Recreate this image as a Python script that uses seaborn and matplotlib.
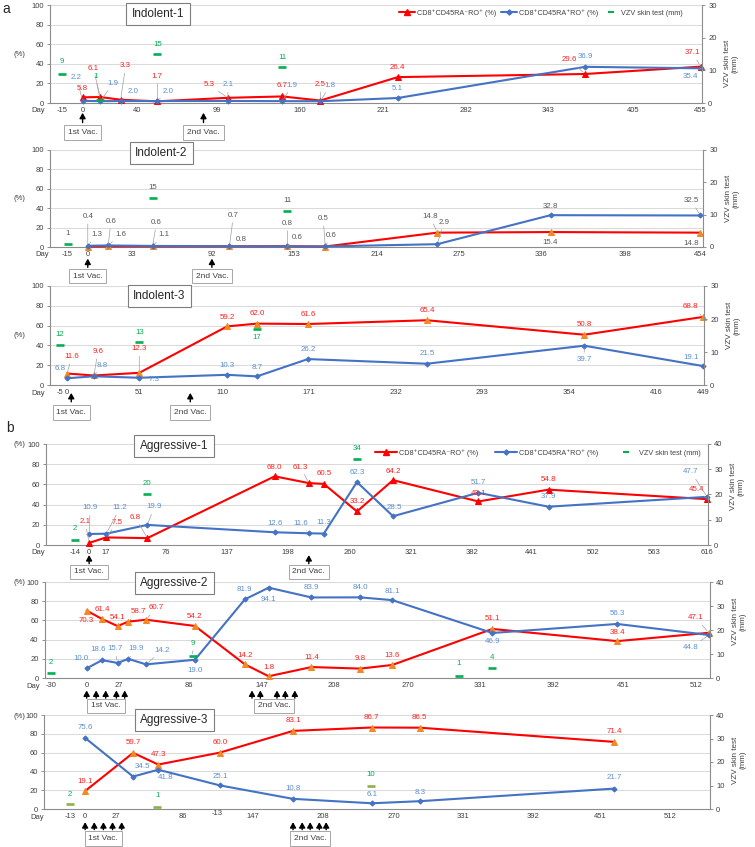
import numpy as np
import pandas as pd
import matplotlib
matplotlib.use('Agg')
import matplotlib.pyplot as plt
import seaborn as sns
from matplotlib.lines import Line2D

sns.set_style('white')
plt.rcParams['font.family'] = ['Liberation Sans', 'DejaVu Sans']

# ---- data: day of sampling, CD8+ subsets (%) and VZV skin test (mm) ----
ind1_day = [0, 13, 28, 55, 107, 147, 175, 232, 370, 455]
ind1_red = [5.8, 6.1, 3.3, 1.7, 5.3, 6.7, 2.5, 26.4, 29.6, 37.1]
ind1_blue = [2.2, 1.9, 2.0, 2.0, 2.1, 1.9, 1.8, 5.1, 36.9, 35.4]
ind1_skin_day = [-15, 13, 55, 147]
ind1_skin = [9, 1, 15, 11]
ind1_ticks = [-15, 0, 40, 99, 160, 221, 282, 343, 405, 455]

ind2_day = [0, 15, 48, 105, 148, 176, 259, 343, 454]
ind2_red = [0.4, 0.6, 0.6, 0.7, 0.8, 0.5, 14.8, 15.4, 14.8]
ind2_blue = [1.3, 1.6, 1.1, 0.8, 0.6, 0.6, 2.9, 32.8, 32.5]
ind2_skin_day = [-15, 48, 148]
ind2_skin = [1, 15, 11]
ind2_ticks = [-15, 0, 33, 92, 153, 214, 275, 336, 398, 454]

ind3_day = [0, 19, 51, 113, 134, 170, 254, 365, 449]
ind3_red = [11.6, 9.6, 12.3, 59.2, 62.0, 61.6, 65.4, 50.8, 68.8]
ind3_blue = [6.8, 8.8, 7.3, 10.3, 8.7, 26.2, 21.5, 39.7, 19.1]
ind3_skin_day = [-5, 51, 134]
ind3_skin = [12, 13, 17]
ind3_ticks = [-5, 0, 51, 110, 171, 232, 293, 354, 416, 449]

agg1_day = [0, 17, 58, 185, 219, 234, 267, 303, 388, 458, 616]
agg1_red = [2.1, 7.5, 6.8, 68.0, 61.3, 60.5, 33.2, 64.2, 43.1, 54.8, 45.4]
agg1_blue = [10.9, 11.2, 19.9, 12.6, 11.6, 11.3, 62.3, 28.5, 51.7, 37.9, 47.7]
agg1_skin_day = [-14, 58, 267]
agg1_skin = [2, 20, 34]
agg1_ticks = [-14, 0, 17, 76, 137, 198, 260, 321, 382, 441, 502, 563, 616]

agg2_day = [0, 13, 26, 35, 50, 91, 133, 153, 189, 230, 257, 341, 446, 523]
agg2_red = [70.3, 61.4, 54.1, 58.7, 60.7, 54.2, 14.2, 1.8, 11.4, 9.8, 13.6, 51.1, 38.4, 47.1]
agg2_blue = [10.0, 18.6, 15.7, 19.9, 14.2, 19.0, 81.9, 94.1, 83.9, 84.0, 81.1, 46.9, 56.3, 44.8]
agg2_skin_day = [-30, 89, 313, 341]
agg2_skin = [2, 9, 1, 4]
agg2_ticks = [-30, 0, 27, 86, 147, 208, 270, 331, 392, 451, 512]

agg3_day = [0, 42, 64, 118, 182, 251, 293, 463]
agg3_red = [19.1, 59.7, 47.3, 60.0, 83.1, 86.7, 86.5, 71.4]
agg3_blue = [75.6, 34.5, 41.8, 25.1, 10.8, 6.1, 8.3, 21.7]
agg3_skin_day = [-13, 63, 250]
agg3_skin = [2, 1, 10]
agg3_ticks = [-13, 0, 27, 86, 147, 208, 270, 331, 392, 451, 512]

# vaccination days (arrows)
ind1_vac = ([0], [89])
ind2_vac = ([0], [92])
ind3_vac = ([3], [87])
agg1_vac = ([0], [219])
agg2_vac = ([0, 8, 16, 25, 32], [139, 146, 160, 167, 175])
agg3_vac = ([0, 8, 16, 24, 32], [182, 190, 197, 205, 211])

# label offsets in pixels (dx, dy)
ind1_red_off = [(0, 9), (-7, 29), (5, 34), (0, 25), (-19, 13), (0, 11), (0, 16), (0, 10), (-16, 14), (-8, 14)]
ind1_blue_off = [(-6, 23), (13, 18), (12, 10), (11, 10), (0, 16), (10, 16), (10, 16), (0, 10), (0, 10), (-10, -8)]
ind1_skin_off = [(0, 12), (-5, 23), (0, 10), (0, 10)]
ind2_red_off = [(0, 30), (3, 25), (4, 24), (4, 31), (0, 23), (-2, 28), (-7, 16), (0, -10), (-9, -11)]
ind2_blue_off = [(9, 11), (13, 11), (11, 11), (12, 7), (10, 9), (6, 11), (7, 22), (0, 9), (-9, 15)]
ind2_skin_off = [(0, 10), (0, 11), (0, 11)]
ind3_red_off = [(5, 17), (4, 24), (0, 24), (0, 9), (0, 10), (0, 10), (0, 10), (0, 10), (-13, 10)]
ind3_blue_off = [(-7, 10), (8, 11), (15, -2), (0, 9), (0, 9), (0, 10), (0, 10), (0, -14), (-12, 9)]
ind3_skin_off = [(0, 11), (0, 10), (0, -9)]
agg1_red_off = [(-4, 21), (11, 15), (-12, 21), (0, 9), (-8, 16), (0, 10), (0, 10), (0, 9), (0, 8), (0, 10), (-10, 10)]
agg1_blue_off = [(1, 26), (14, 26), (7, 18), (0, 9), (-8, 10), (0, 11), (0, 10), (1, 9), (0, 10), (0, 10), (-16, 25)]
agg1_skin_off = [(0, 11), (0, 11), (0, 11)]
agg2_red_off = [(0, -10), (0, 10), (0, 9), (10, 10), (10, 12), (0, 9), (0, 9), (0, 9), (0, 10), (0, 10), (0, 9),
                (0, 10), (0, 9), (-13, 15)]
agg2_blue_off = [(-6, 10), (-4, 11), (-3, 14), (8, 10), (16, 14), (0, -11), (0, 10), (0, -12), (0, 10), (0, 10),
                 (0, 9), (0, -9), (0, 10), (-18, -13)]
agg2_skin_off = [(0, 11), (0, 13), (0, 12), (0, 11)]
agg3_red_off = [(0, 10)] * 8
agg3_blue_off = [(0, 10), (9, 10), (7, -8), (0, 9), (0, 10), (0, 9), (0, 9), (0, 11)]
agg3_skin_off = [(0, 10), (0, 11), (0, 11)]

RED = '#FF0000'
ORANGE = '#F08A24'
BLUE = '#4472C4'
BLUE_TXT = '#5B8FD0'
RED_TXT = '#FF2020'
GREEN = '#00B050'
OLIVE = '#8DB04B'
GRAY = '#595959'
W, H = 755, 847

panels = [
    dict(name='Indolent-1', rect=(50, 5, 702, 103), xlim=(-24, 456), ticks=ind1_ticks,
         day=ind1_day, red=ind1_red, blue=ind1_blue, sday=ind1_skin_day, skin=ind1_skin,
         roff=ind1_red_off, boff=ind1_blue_off, soff=ind1_skin_off, vac=ind1_vac, rmax=30,
         arrow=(-0.10, -0.20), box=-0.30, title=(158, 14), pct='mid', day_dx=-12, ylab_y=0.40,
         mk=RED, c=(RED_TXT, BLUE_TXT, GREEN), green=GREEN, legend=(0.753, 0.918, 0.6, 2.2)),
    dict(name='Indolent-2', rect=(50, 150, 703, 247), xlim=(-28, 456), ticks=ind2_ticks,
         day=ind2_day, red=ind2_red, blue=ind2_blue, sday=ind2_skin_day, skin=ind2_skin,
         roff=ind2_red_off, boff=ind2_blue_off, soff=ind2_skin_off, vac=ind2_vac, rmax=30,
         arrow=(-0.12, -0.21), box=-0.30, title=(161, 153), pct='mid', day_dx=-8, ylab_y=0.5,
         mk=ORANGE, c=(GRAY, GRAY, GRAY), green=GREEN, legend=None),
    dict(name='Indolent-3', rect=(50, 286, 704, 385), xlim=(-12, 449.5), ticks=ind3_ticks,
         day=ind3_day, red=ind3_red, blue=ind3_blue, sday=ind3_skin_day, skin=ind3_skin,
         roff=ind3_red_off, boff=ind3_blue_off, soff=ind3_skin_off, vac=ind3_vac, rmax=30,
         arrow=(-0.08, -0.17), box=-0.28, title=(159, 296), pct='mid', day_dx=-12, ylab_y=0.6,
         mk=ORANGE, c=(RED_TXT, BLUE_TXT, GREEN), green=GREEN, legend=None),
    dict(name='Aggressive-1', rect=(46, 444, 708, 545), xlim=(-43, 617), ticks=agg1_ticks,
         day=agg1_day, red=agg1_red, blue=agg1_blue, sday=agg1_skin_day, skin=agg1_skin,
         roff=agg1_red_off, boff=agg1_blue_off, soff=agg1_skin_off, vac=agg1_vac, rmax=40,
         arrow=(-0.10, -0.185), box=-0.265, title=(174, 446), pct='top', day_dx=-8, ylab_y=0.58,
         mk=RED, c=(RED_TXT, BLUE_TXT, GREEN), green=GREEN, legend=(0.743, 0.91, 2.3, 3.0)),
    dict(name='Aggressive-2', rect=(45, 582, 710, 678), xlim=(-35, 524), ticks=agg2_ticks,
         day=agg2_day, red=agg2_red, blue=agg2_blue, sday=agg2_skin_day, skin=agg2_skin,
         roff=agg2_red_off, boff=agg2_blue_off, soff=agg2_skin_off, vac=agg2_vac, rmax=40,
         arrow=(-0.13, -0.21), box=-0.29, title=(174, 583), pct='top', day_dx=-12, ylab_y=0.59,
         mk=ORANGE, c=(RED_TXT, BLUE_TXT, GREEN), green=GREEN, legend=None),
    dict(name='Aggressive-3', rect=(44, 715, 710, 809), xlim=(-36, 547), ticks=agg3_ticks,
         day=agg3_day, red=agg3_red, blue=agg3_blue, sday=agg3_skin_day, skin=agg3_skin,
         roff=agg3_red_off, boff=agg3_blue_off, soff=agg3_skin_off, vac=agg3_vac, rmax=40,
         arrow=(-0.14, -0.22), box=-0.315, title=(174, 720), pct='top', day_dx=-7, ylab_y=0.52,
         mk=ORANGE, c=(RED_TXT, BLUE_TXT, GREEN), green=OLIVE, legend=None),
]


def put_label(ax, x, y, s, off, color):
    dx, dy = off
    ap = None
    if np.hypot(dx, dy) > 12.5:
        ap = dict(arrowstyle='-', color='#A0A0A0', lw=0.5, shrinkA=0.5, shrinkB=2)
    ax.annotate(s, (x, y), xytext=(dx, dy), textcoords='offset pixels', ha='center', va='center',
                fontsize=5.7, color=color, arrowprops=ap, annotation_clip=False, zorder=6)


fig = plt.figure(figsize=(W / 100, H / 100), dpi=100)

for p in panels:
    l, t, r, b = p['rect']
    ax = fig.add_axes([l / W, 1 - b / H, (r - l) / W, (b - t) / H])
    ax2 = ax.twinx()

    sns.lineplot(x=p['day'], y=p['red'], ax=ax, color=RED, lw=1.5, marker='^', markersize=3.8,
                 markerfacecolor=p['mk'], markeredgecolor=p['mk'], errorbar=None, clip_on=False, zorder=3)
    sns.lineplot(x=p['day'], y=p['blue'], ax=ax, color=BLUE, lw=1.5, marker='D', markersize=2.6,
                 markerfacecolor=BLUE, markeredgecolor=BLUE, errorbar=None, clip_on=False, zorder=3)
    sns.scatterplot(x=p['sday'], y=p['skin'], ax=ax2, marker='_', s=36, linewidth=1.9,
                    color=p['green'], clip_on=False, zorder=3, legend=False)

    for x, v, o in zip(p['day'], p['red'], p['roff']):
        put_label(ax, x, v, f'{v:.1f}', o, p['c'][0])
    for x, v, o in zip(p['day'], p['blue'], p['boff']):
        put_label(ax, x, v, f'{v:.1f}', o, p['c'][1])
    for x, v, o in zip(p['sday'], p['skin'], p['soff']):
        put_label(ax2, x, v, f'{v:d}', o, p['c'][2])

    ax.set_xlim(*p['xlim'])
    ax.set_ylim(0, 100)
    ax2.set_ylim(0, p['rmax'])
    ax.set_xticks(p['ticks'])
    ax.set_xticklabels([str(v) for v in p['ticks']])
    ax.set_yticks(range(0, 101, 20))
    ax2.set_yticks(range(0, p['rmax'] + 1, 10))
    ax.set_xlabel('')
    ax.set_ylabel('')
    ax.grid(axis='y', color='#D9D9D9', lw=0.7)
    ax.grid(axis='x', visible=False)
    ax2.grid(False)
    ax.set_axisbelow(True)
    ax.tick_params(axis='x', length=0, pad=3, labelsize=5.5, labelcolor='#404040')
    ax.tick_params(axis='y', length=2.5, width=0.6, pad=2, labelsize=5.5, color='#808080',
                   labelcolor='#404040', left=True)
    ax2.tick_params(axis='y', length=2.5, width=0.6, pad=2, labelsize=5.5, color='#808080',
                    labelcolor='#404040', right=True)
    for s in ['top', 'right']:
        ax.spines[s].set_visible(False)
    for s in ['top', 'left', 'bottom']:
        ax2.spines[s].set_visible(False)
    for s in [ax.spines['left'], ax.spines['bottom'], ax2.spines['right']]:
        s.set_color('#8C8C8C')
        s.set_linewidth(0.8)

    ax2.set_ylabel('VZV skin test\n(mm)', fontsize=5.8, color='#404040', linespacing=1.1)
    ax2.yaxis.label.set_va('center')
    ax2.yaxis.set_label_coords(1 + 29 / (r - l), p['ylab_y'])

    # day label and (%)
    ax.annotate('Day', xy=(0, 0), xycoords='axes fraction', xytext=(p['day_dx'], -8),
                textcoords='offset pixels', ha='center', va='center', fontsize=5.5, color='#404040')
    py = (t + b) / 2 if p['pct'] == 'mid' else t + 1
    fig.text(19 / W, 1 - py / H, '(%)', fontsize=5.5, color='#404040', ha='center', va='center')

    # vaccination arrows and boxes
    a_tip, a_tail = p['arrow']
    for d in p['vac'][0] + p['vac'][1]:
        ax.annotate('', xy=(d, a_tip), xycoords=('data', 'axes fraction'),
                    xytext=(d, a_tail), textcoords=('data', 'axes fraction'),
                    arrowprops=dict(arrowstyle='-|>,head_width=0.18,head_length=0.32', color='black',
                                    lw=1.0, shrinkA=0, shrinkB=0), annotation_clip=False, zorder=7)
    for days, txt in zip(p['vac'], ['1st Vac.', '2nd Vac.']):
        ax.annotate(txt, xy=(np.mean(days), p['box']), xycoords=('data', 'axes fraction'),
                    ha='center', va='center', fontsize=6, color='#404040', annotation_clip=False,
                    bbox=dict(boxstyle='square,pad=0.45', fc='white', ec='#A6A6A6', lw=0.7))

    fig.text(p['title'][0] / W, 1 - p['title'][1] / H, p['name'], fontsize=8.5, color='#262626',
             ha='center', va='center',
             bbox=dict(boxstyle='square,pad=0.45', fc='white', ec='#7F7F7F', lw=0.8))

    if p['legend'] is not None:
        lx, ly, cs, hl = p['legend']
        handles = [Line2D([], [], color=RED, lw=1.5, marker='^', ms=3.8, mfc=RED, mec=RED),
                   Line2D([], [], color=BLUE, lw=1.5, marker='D', ms=2.6, mfc=BLUE, mec=BLUE),
                   Line2D([], [], color=GREEN, ls='none', marker='_', ms=4, mew=1.5)]
        labels = ['CD8⁺CD45RA⁻RO⁺ (%)', 'CD8⁺CD45RA⁺RO⁺ (%)', 'VZV skin test (mm)']
        ax2.legend(handles, labels, loc='center', bbox_to_anchor=(lx, ly), ncol=3, frameon=False,
                   fontsize=5.2, handlelength=hl, columnspacing=cs, handletextpad=0.3, borderaxespad=0,
                   labelcolor='#404040')

    if p['name'] == 'Aggressive-3':
        ax.annotate('-13', xy=(116, 0), xytext=(0, -4), textcoords='offset pixels', ha='center',
                    va='center', fontsize=5.5, color='#404040', annotation_clip=False)

fig.text(6 / W, 1 - 9 / H, 'a', fontsize=10, ha='center', va='center')
fig.text(10 / W, 1 - 428 / H, 'b', fontsize=10, ha='center', va='center')

fig.savefig('out.png', dpi=100)
